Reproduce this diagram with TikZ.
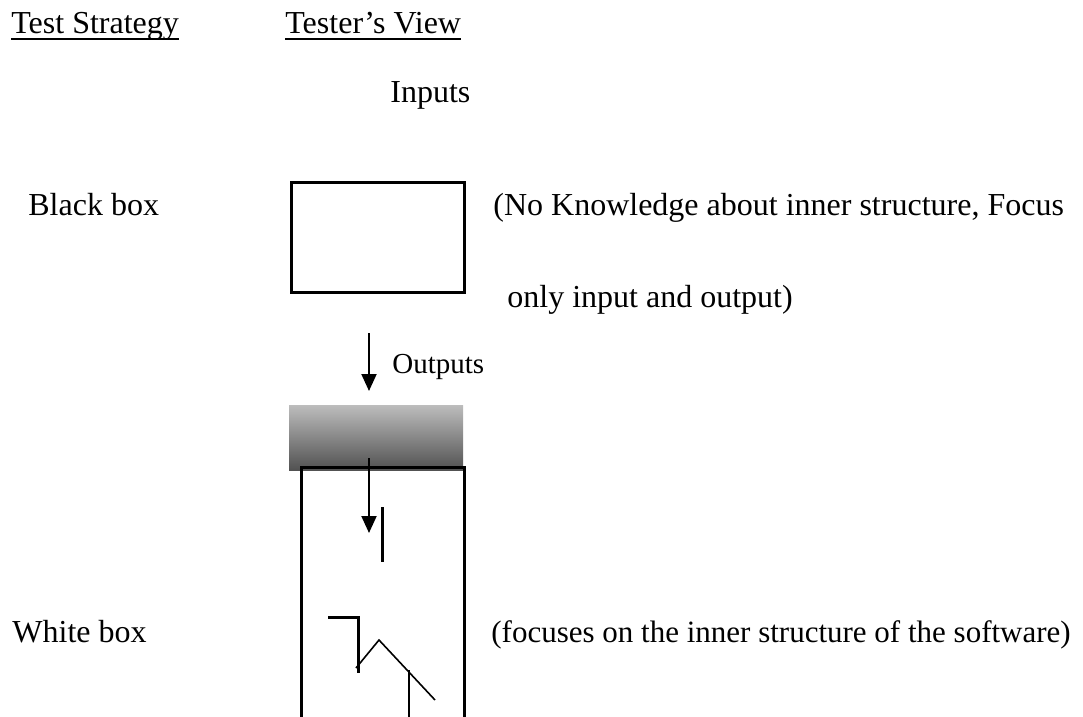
\documentclass[tikz,border=0pt]{standalone}
\usepackage{fontspec}
\setmainfont{Liberation Serif}
\usetikzlibrary{arrows.meta}

\tikzset{
  lbl/.style={anchor=base west, inner sep=0pt, font=\fontsize{16}{19}\selectfont},
  smalllbl/.style={lbl, font=\fontsize{14.5}{17}\selectfont},
  notelbl/.style={lbl, font=\fontsize{15.5}{18}\selectfont},
  boxline/.style={line width=1.5pt},
  flow/.style={line width=1pt, -{Triangle[length=8.5pt,width=7.5pt]}},
  thinline/.style={line width=0.8pt}
}

\begin{document}
\begin{tikzpicture}[line join=miter, x=0.5pt, y=-0.5pt]

                \useasboundingbox (0,0) rectangle (1083,717);

                % headings
                \node[lbl] (strat) at (11,34) {Test Strategy};
                \node[lbl] (view) at (285,34) {Tester’s View};
                \draw[line width=1pt] ([yshift=-2.5pt]strat.base west) -- ([yshift=-2.5pt]strat.base east);
                \draw[line width=1pt] ([yshift=-2.5pt]view.base west) -- ([yshift=-2.5pt]view.base east);

                \node[lbl] (inputs) at (390,103) {Inputs};

                % black box
                \node[lbl] (blacklbl) at (28,215) {Black box};
                \draw[boxline] (291,183) rectangle (464,292);
                \node[lbl] (note1) at (493,215) {(No Knowledge about inner structure, Focus};
                \node[lbl] (note2) at (507,307) {only input and output)};

                \coordinate (out1) at (369,333);
                \coordinate (out2) at (369,391);
                \draw[flow] (out1) -- (out2);
                \node[smalllbl] (outputs) at (392,373) {Outputs};

                % white box
                \shade[top color=black!26, bottom color=black!68] (289,405) rectangle (463,470);
                \draw[boxline] (301,720) -- (301,467) -- (464,467) -- (464,720);

                \coordinate (in1) at (369,458);
                \coordinate (in2) at (369,533);
                \draw[flow] (in1) -- (in2);
                \draw[boxline] (382,507) -- (382,562);

                \draw[boxline] (328,617) -- (358,617) -- (358,673);
                \draw[thinline] (356,668) -- (379,640) -- (435,700);
                \draw[thinline] (409,670) -- (409,720);

                \node[lbl] (whitelbl) at (12,642) {White box};
                \node[notelbl] (note3) at (491,642) {(focuses on the inner structure of the software)};

\end{tikzpicture}
\end{document}
